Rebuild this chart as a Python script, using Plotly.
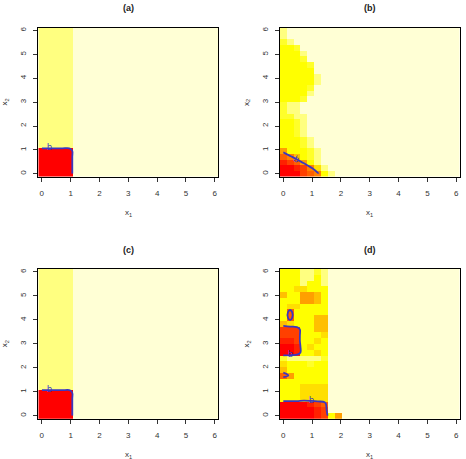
import plotly.graph_objects as go

# grid: 26 points from 0 to 6 (step 0.24)
grid = [round(0.24 * k, 2) for k in range(26)]
background = 11
level_b = 4.5

# heat.colors(12) from R
heat_colors = ["#FF0000", "#FF2000", "#FF4000", "#FF6000", "#FF8000", "#FF9F00",
               "#FFBF00", "#FFDF00", "#FFFF00", "#FFFF2A", "#FFFF80", "#FFFFD5"]

# each row: leading cells (x = 0, 0.24, ...); remaining cells are background
panel_a = [[0, 0, 0, 0, 0]] * 5 + [[10, 10, 10, 10, 10]] * 21
panel_c = [[0, 0, 0, 0, 0]] * 5 + [[10, 10, 10, 10, 10]] * 21
panel_b = [
    [0, 0, 0, 2, 3, 4, 8, 10],
    [0, 0, 1, 2, 4, 7, 10],
    [1, 2, 3, 5, 8, 10],
    [3, 4, 6, 8, 9, 10],
    [5, 8, 8, 8, 9, 10],
    [8, 8, 8, 9, 10],
    [8, 8, 8, 9, 10],
    [8, 8, 9, 10],
    [8, 8, 9, 10],
    [8, 8, 9, 10],
    [9, 9, 10, 10],
    [9, 10, 10],
    [9, 10, 10],
    [8, 8, 8, 9],
    [8, 8, 8, 8, 10],
    [8, 8, 8, 8, 9],
    [8, 8, 8, 8, 8, 10],
    [8, 8, 8, 8, 8, 10],
    [8, 8, 8, 8, 8],
    [8, 8, 8, 8, 9],
    [8, 8, 8, 9],
    [8, 8, 8, 10],
    [8, 8, 9],
    [9, 10],
    [10],
    [10],
]
panel_d = [
    [0, 0, 0, 0, 0, 1, 2, 8, 5],
    [0, 0, 0, 0, 0, 1, 2],
    [0, 0, 0, 0, 1, 2, 3],
    [8, 8, 8, 7, 7, 7, 7],
    [8, 8, 8, 7, 7, 7, 7],
    [8, 8, 8, 7, 7, 7, 7],
    [8, 8, 8, 8, 8, 8, 8],
    [3, 5, 8, 8, 8, 8, 8],
    [6, 8, 8, 8, 8, 8, 8],
    [7, 8, 8, 8, 9, 8, 8],
    [9, 10, 10, 10, 10, 10, 9],
    [0, 0, 1, 8, 8, 7, 8],
    [0, 0, 1, 8, 7, 8, 8],
    [1, 1, 2, 8, 8, 7, 8],
    [2, 2, 2, 8, 8, 8, 7],
    [2, 2, 2, 8, 8, 6, 6],
    [6, 7, 8, 8, 8, 6, 6],
    [8, 3, 8, 8, 8, 6, 6],
    [8, 3, 8, 8, 8, 8, 8],
    [8, 7, 7, 8, 8, 8, 8],
    [8, 8, 8, 5, 5, 6, 8],
    [6, 8, 8, 5, 5, 6, 8],
    [8, 8, 7, 7, 8, 8, 8],
    [8, 8, 8, 10, 8, 8, 10],
    [8, 8, 8, 10, 10, 8, 10],
    [8, 8, 8, 10, 10, 9, 10],
]
panel_titles = ["(a)", "(b)", "(c)", "(d)"]
tick_vals = [0, 1, 2, 3, 4, 5, 6]
# contour label positions (x1, x2, angle) per panel
labels_a = [(0.27, 1.13, 0)]
labels_b = [(0.46, 0.61, 30)]
labels_c = [(0.27, 1.13, 0)]
labels_d = [(0.99, 0.66, 0), (0.25, 2.57, 0)]


def full(rows):
    return [list(r) + [background] * (len(grid) - len(r)) for r in rows]


n = len(heat_colors)
colorscale = []
for k, c in enumerate(heat_colors):
    colorscale.append([k / n, c])
    colorscale.append([(k + 1) / n, c])

W, H = 466, 459
# plot areas in pixels: (left, right, top, bottom)
areas = [(38.3, 218.3, 27.7, 176.7), (279.7, 459.7, 27.7, 176.7),
         (38.3, 218.3, 269.0, 418.7), (279.7, 459.7, 269.0, 418.7)]

fig = go.Figure()
blue = "#3a38c0"
font = "Liberation Sans, Arial, sans-serif"
panels = [panel_a, panel_b, panel_c, panel_d]
labels = [labels_a, labels_b, labels_c, labels_d]
for p, (rows, title, labs, area) in enumerate(zip(panels, panel_titles, labels, areas)):
    xa = "x" if p == 0 else f"x{p+1}"
    ya = "y" if p == 0 else f"y{p+1}"
    z = full(rows)
    fig.add_trace(go.Heatmap(x=grid, y=grid, z=z, colorscale=colorscale, zmin=-0.5, zmax=11.5,
                             showscale=False, hoverinfo="skip", xaxis=xa, yaxis=ya))
    fig.add_trace(go.Contour(x=grid, y=grid, z=z, autocontour=False,
                             contours=dict(coloring="none", start=level_b, end=level_b, size=1,
                                           showlabels=False),
                             line=dict(color=blue, width=1.8), showscale=False,
                             hoverinfo="skip", xaxis=xa, yaxis=ya))
    l, r, t, b = area
    xdom = [l / W, r / W]
    ydom = [1 - b / H, 1 - t / H]
    axcommon = dict(range=[-0.12, 6.12], showgrid=False, zeroline=False, showline=True,
                    mirror=True, linecolor="black", linewidth=1, ticks="outside", ticklen=4,
                    tickcolor="#333", tickvals=tick_vals, tickfont=dict(size=8, color="#333", family=font))
    fig.layout[("xaxis" if p == 0 else f"xaxis{p+1}")] = dict(
        domain=xdom, anchor=ya, ticklabelstandoff=5, **axcommon)
    fig.layout[("yaxis" if p == 0 else f"yaxis{p+1}")] = dict(
        domain=ydom, anchor=xa, tickangle=-90, ticklabelstandoff=4, **axcommon)
    cx = (l + r) / 2 / W
    fig.add_annotation(x=cx, y=1 - (t - 19.5) / H, xref="paper", yref="paper", text="<b>" + title + "</b>",
                       showarrow=False, xanchor="center", yanchor="middle",
                       font=dict(size=9, color="#222", family=font))
    fig.add_annotation(x=cx, y=1 - (b + 36.5) / H, xref="paper", yref="paper", text="x<sub>1</sub>",
                       showarrow=False, xanchor="center", yanchor="middle",
                       font=dict(size=8, color="#333", family=font))
    fig.add_annotation(x=(l - 33) / W, y=1 - (t + b) / 2 / H, xref="paper", yref="paper",
                       text="x<sub>2</sub>", textangle=-90, xanchor="center", yanchor="middle",
                       showarrow=False, font=dict(size=8, color="#333", family=font))
    for (lx, ly, ang) in labs:
        fig.add_annotation(x=lx, y=ly, xref=xa, yref=ya, text="b", textangle=ang, showarrow=False,
                           xanchor="center", yanchor="middle",
                           font=dict(size=9, color=blue, family=font))

fig.update_layout(width=W, height=H, margin=dict(l=0, r=0, t=0, b=0),
                  paper_bgcolor="white", plot_bgcolor="white", showlegend=False)
fig.write_html("out.html")
